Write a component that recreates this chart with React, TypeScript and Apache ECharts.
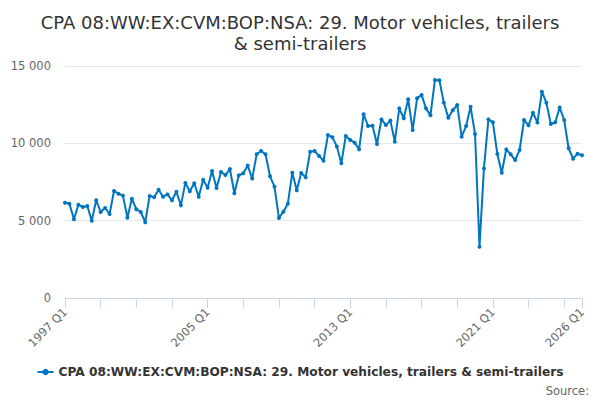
import React, { useEffect, useRef } from "react";
import * as echarts from "echarts";

const TITLE = "CPA 08:WW:EX:CVM:BOP:NSA: 29. Motor vehicles, trailers\n& semi-trailers";
const SERIES_NAME = "CPA 08:WW:EX:CVM:BOP:NSA: 29. Motor vehicles, trailers & semi-trailers";

const START_YEAR = 1997;
const QUARTER_COUNT = 117;

const values: number[] = [
  6160, 6100, 5090, 6030, 5880, 5950, 5000, 6320, 5560, 5820,
  5430, 6920, 6740, 6620, 5190, 6420, 5740, 5560, 4900, 6600,
  6510, 7000, 6550, 6700, 6320, 6870, 5990, 7440, 6900, 7420,
  6550, 7650, 7130, 8210, 7110, 8150, 7950, 8340, 6770, 7930,
  8060, 8560, 7720, 9290, 9500, 9290, 7870, 7200, 5170, 5580,
  6100, 8100, 6960, 8080, 7800, 9460, 9500, 9180, 8880, 10540,
  10390, 9790, 8710, 10480, 10220, 10040, 9610, 11880, 11120, 11140,
  9960, 11550, 11190, 11470, 10110, 12260, 11620, 12850, 10860, 12910,
  13130, 12260, 11810, 14100, 14080, 12630, 11660, 12140, 12480, 10430,
  11120, 12370, 10600, 3320, 8380, 11550, 11360, 9310, 8100, 9610,
  9290, 8920, 9570, 11510, 11160, 11980, 11340, 13340, 12630, 11250,
  11360, 12310, 11510, 9680, 9010, 9330, 9230,
];

const categories: string[] = Array.from(
  { length: QUARTER_COUNT },
  (_, i) => `${START_YEAR + Math.floor(i / 4)} Q${(i % 4) + 1}`
);

const FONT = "DejaVu Sans";

export default function App() {
  const ref = useRef<HTMLDivElement>(null);
  useEffect(() => {
    if (!ref.current) return;
    const chart = echarts.init(ref.current, null, { renderer: "svg" });
    const last = QUARTER_COUNT - 1;
    chart.setOption({
      animation: false,
      backgroundColor: "#ffffff",
      textStyle: { fontFamily: FONT },
      title: {
        text: TITLE,
        left: "center",
        top: 7,
        textStyle: {
          fontFamily: FONT,
          fontSize: 18,
          fontWeight: "normal",
          color: "#333333",
          lineHeight: 21,
        },
      },
      grid: { left: 65, right: 18, top: 66, bottom: 102, containLabel: false },
      xAxis: {
        type: "category",
        data: categories,
        boundaryGap: false,
        axisLine: { lineStyle: { color: "#ccd6eb", width: 1 } },
        axisTick: {
          show: true,
          length: 10,
          lineStyle: { color: "#ccd6eb" },
          interval: (i: number) => i % 8 === 0 || i === last,
        },
        axisLabel: {
          rotate: 45,
          fontSize: 11.5,
          color: "#666666",
          fontFamily: FONT,
          margin: 12,
          interval: (i: number) => i % 32 === 0 || i === last,
        },
        splitLine: { show: false },
      },
      yAxis: {
        type: "value",
        min: 0,
        max: 15000,
        interval: 5000,
        axisLine: { show: false },
        axisTick: { show: false },
        axisLabel: {
          fontSize: 11.5,
          color: "#666666",
          fontFamily: FONT,
          margin: 14,
          formatter: (v: number) => String(v).replace(/\B(?=(\d{3})+(?!\d))/g, " "),
        },
        splitLine: { lineStyle: { color: "#e6e6e6", width: 1 } },
      },
      legend: {
        data: [SERIES_NAME],
        bottom: 17,
        left: "center",
        itemWidth: 16,
        itemHeight: 8,
        itemGap: 5,
        textStyle: { fontFamily: FONT, fontSize: 12.2, fontWeight: "bold", color: "#333333" },
      },
      graphic: [
        {
          type: "text",
          right: 11,
          bottom: 3,
          style: { text: "Source:", fontFamily: FONT, fontSize: 11.5, fill: "#666666" },
        },
      ],
      series: [
        {
          name: SERIES_NAME,
          type: "line",
          data: values,
          symbol: "circle",
          symbolSize: 4,
          showSymbol: true,
          showAllSymbol: true,
          lineStyle: { color: "#0075c0", width: 2 },
          itemStyle: { color: "#0075c0" },
        },
      ],
    });
    return () => chart.dispose();
  }, []);
  return (
    <div
      ref={ref}
      style={{ position: "absolute", left: 0, top: 0, width: 600, height: 400 }}
    />
  );
}
